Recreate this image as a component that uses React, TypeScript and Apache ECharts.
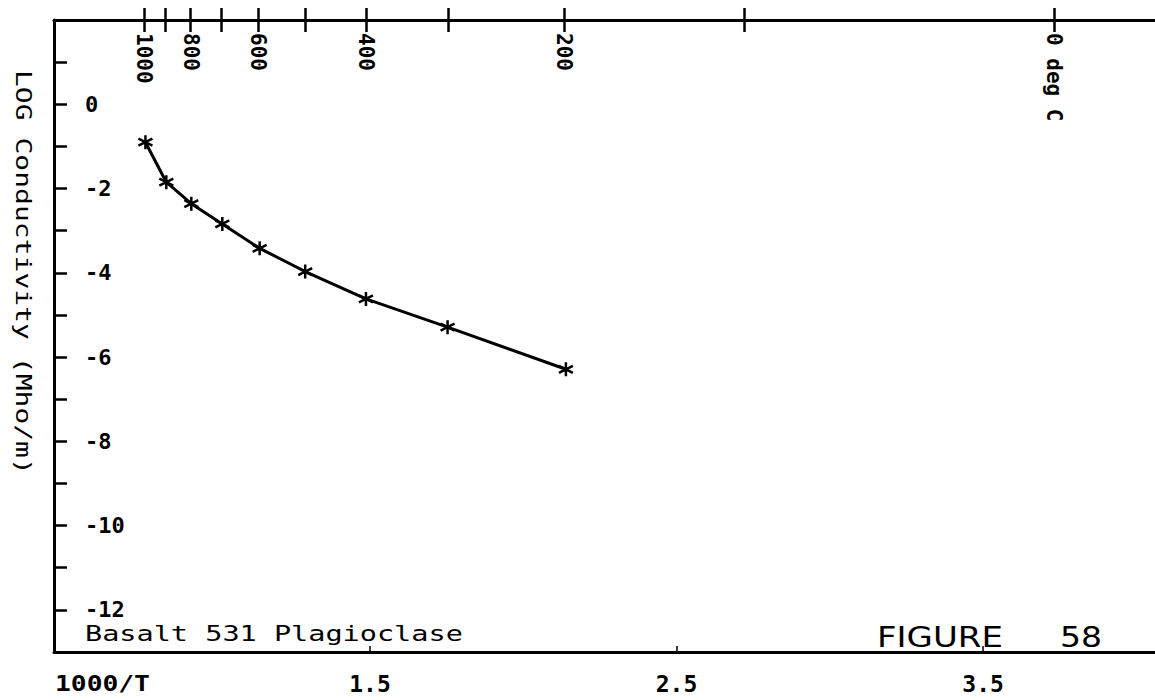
import React, { useEffect, useRef } from "react";
import * as echarts from "echarts";

const inverseTemperature = [0.789, 0.855, 0.934, 1.032, 1.15, 1.294, 1.486, 1.744, 2.118];
// LOG conductivity (Mho/m)
const logConductivity = [-0.9, -1.85, -2.36, -2.84, -3.42, -3.97, -4.62, -5.29, -6.29];

// top temperature scale (deg C) expressed as 1000/T
const topTickValues = [0.7855, 0.8525, 0.9318, 1.0276, 1.1453, 1.2937, 1.4857, 1.7452, 2.1134, 2.6802, 3.661];
const topLabelValues = [0.7855, 0.9318, 1.1453, 1.4857, 2.1134, 3.661];
const topLabels = ["1000", "800", "600", "400", "200", "0 deg C"];

// bottom 1000/T scale
const bottomTickValues = [1.5, 2.5, 3.5];
const bottomTickLabels = ["1.5", "2.5", "3.5"];

const Y_MIN = -13;
const Y_MAX = 2;

const MONO = '"DejaVu Sans Mono", "Liberation Mono", monospace';
const SANS = '"DejaVu Sans", "Liberation Sans", sans-serif';

function measure(text: string, font: string): number {
  const ctx = document.createElement("canvas").getContext("2d");
  if (!ctx) return text.length * 12;
  ctx.font = font;
  return ctx.measureText(text).width || text.length * 12;
}

function fitText(
  text: string,
  x: number,
  y: number,
  width: number,
  size: number,
  family: string,
  weight: string,
  extra: any = {}
) {
  const w = measure(text, `${weight} ${size}px ${family}`);
  return {
    type: "text",
    x,
    y,
    scaleX: width / w,
    silent: true,
    ...extra,
    style: {
      text,
      fontSize: size,
      fontFamily: family,
      fontWeight: weight,
      fill: "#000",
      align: "left",
      verticalAlign: "middle",
    },
  };
}

export default function App() {
  const ref = useRef<HTMLDivElement>(null);

  useEffect(() => {
    if (!ref.current) return;
    const chart = echarts.init(ref.current, null, { renderer: "svg" });

    const axisLine = { show: true, onZero: false, lineStyle: { color: "#000", width: 3 } };
    const tickStyle = { color: "#000", width: 2.5 };

    const yName = "LOG Conductivity (Mho/m)";

    chart.setOption({
      animation: false,
      backgroundColor: "#fff",
      grid: {
        left: 54,
        right: 0,
        top: 20,
        bottom: 48,
        containLabel: false,
        outerBoundsMode: "none",
      },
      xAxis: [
        {
          type: "value",
          position: "bottom",
          min: 0.469,
          max: 4.061,
          axisLine,
          axisTick: {
            show: true,
            inside: true,
            length: 6,
            customValues: bottomTickValues,
            lineStyle: { color: "#000", width: 1.5 },
          },
          axisLabel: {
            show: true,
            customValues: bottomTickValues,
            margin: 20,
            color: "#000",
            fontSize: 23,
            fontWeight: "bold",
            fontFamily: MONO,
            formatter: (v: number) => {
              const i = bottomTickValues.findIndex((t) => Math.abs(t - v) < 1e-6);
              return i >= 0 ? bottomTickLabels[i] : "";
            },
          },
          splitLine: { show: false },
        },
        {
          type: "value",
          position: "top",
          min: 0.5,
          max: 3.98,
          axisLine,
          axisTick: {
            show: true,
            inside: false,
            length: 12,
            customValues: topTickValues,
            lineStyle: tickStyle,
          },
          axisLabel: {
            show: true,
            inside: true,
            customValues: topLabelValues,
            rotate: 90,
            align: "left",
            verticalAlign: "middle",
            margin: 13,
            color: "#000",
            fontSize: 21,
            fontWeight: "bold",
            fontFamily: MONO,
            formatter: (v: number) => {
              let best = 0;
              topLabelValues.forEach((t, i) => {
                if (Math.abs(t - v) < Math.abs(topLabelValues[best] - v)) best = i;
              });
              return topLabels[best];
            },
          },
          splitLine: { show: false },
        },
        {
          type: "value",
          position: "top",
          min: 0.5,
          max: 3.98,
          axisLine: { show: false, onZero: false },
          axisTick: {
            show: true,
            inside: true,
            length: 12,
            customValues: topTickValues,
            lineStyle: tickStyle,
          },
          axisLabel: { show: false },
          splitLine: { show: false },
        },
      ],
      yAxis: {
        type: "value",
        min: Y_MIN,
        max: Y_MAX,
        interval: 1,
        axisLine,
        axisTick: { show: true, inside: true, length: 13, lineStyle: tickStyle },
        axisLabel: {
          show: true,
          inside: true,
          margin: 31,
          color: "#000",
          fontSize: 22,
          fontWeight: "bold",
          fontFamily: MONO,
          showMinLabel: false,
          showMaxLabel: false,
          formatter: (v: number) => (v <= 0 && v % 2 === 0 ? String(v) : ""),
        },
        splitLine: { show: false },
      },
      graphic: [
        fitText(yName, 23.5, 70, 405, 22, MONO, "normal", { rotation: -Math.PI / 2 }),
        fitText("Basalt 531 Plagioclase", 85, 633, 378, 22, MONO, "normal"),
        fitText("FIGURE", 877, 637, 126, 29, SANS, "normal"),
        fitText("58", 1060, 637, 42, 29, SANS, "normal"),
        fitText("1000/T", 55, 683, 95, 22, MONO, "bold"),
      ],
      series: [
        {
          type: "line",
          xAxisIndex: 1,
          yAxisIndex: 0,
          data: inverseTemperature.map((x, i) => [x, logConductivity[i]]),
          lineStyle: { color: "#000", width: 3 },
          symbol: "path://M5,0L5,10M0.67,2.5L9.33,7.5M0.67,7.5L9.33,2.5",
          symbolSize: 14,
          itemStyle: { color: "#000", borderColor: "#000", borderWidth: 2.5 },
          showSymbol: true,
        },
      ],
    });

    return () => chart.dispose();
  }, []);

  return (
    <div
      ref={ref}
      style={{ position: "fixed", left: 0, top: 0, width: 1155, height: 700, background: "#fff" }}
    />
  );
}
